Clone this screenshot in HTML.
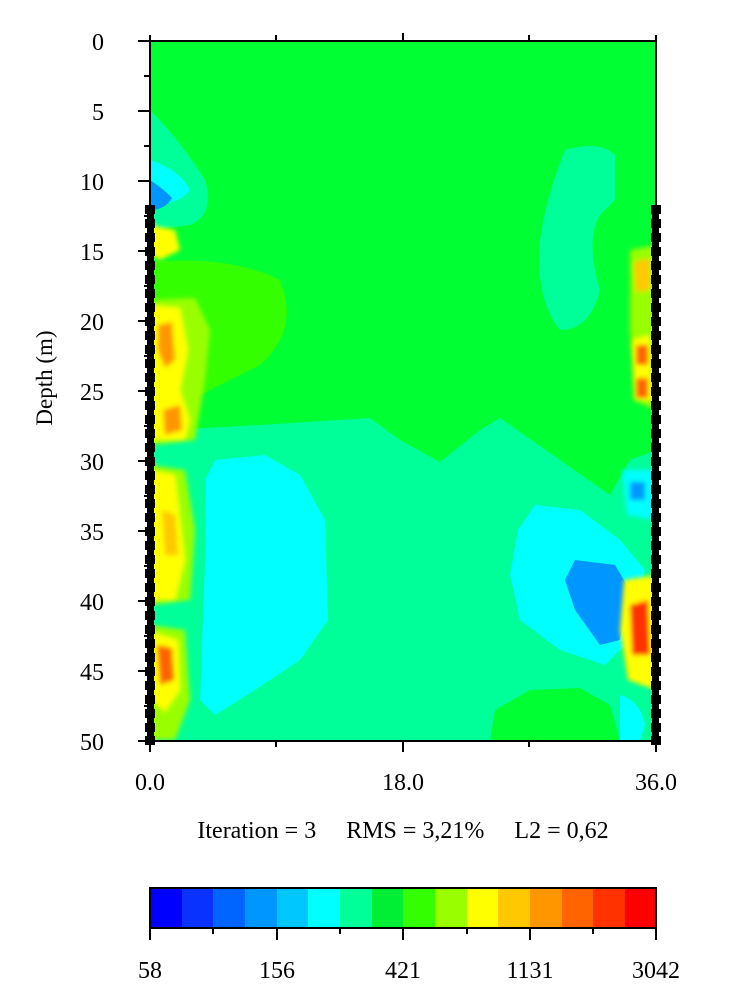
<!DOCTYPE html>
<html><head><meta charset="utf-8"><style>
body{margin:0;background:#fff;}
svg{display:block;font-family:"Liberation Serif",serif;}
</style></head><body>
<svg width="737" height="997" viewBox="0 0 737 997">
<defs><clipPath id="c"><rect x="150" y="41" width="506" height="700"/></clipPath>
<filter id="b"><feGaussianBlur stdDeviation="2.5"/></filter></defs>
<g clip-path="url(#c)">
<rect x="150" y="41" width="506" height="700" fill="#00ff33"/>
<path d="M150 262 Q230 255 280 280 Q300 330 260 365 Q220 385 190 400 L150 410Z" fill="#33ff00"/>
<path d="M150 440 L170 430 L260 425 L370 418 L400 440 L440 462 L480 430 L500 418 L560 460 L610 495 L630 460 L656 450 L656 741 L150 741Z" fill="#00ff99"/>
<path d="M565 150 Q600 140 615 155 L615 200 L600 215 Q585 240 600 290 Q590 330 560 330 Q535 300 540 240 Q545 200 565 150Z" fill="#00ff99"/>
<path d="M150 110 Q180 140 205 180 Q215 215 190 225 L150 230Z" fill="#00ff99"/>
<path d="M150 160 Q180 170 190 190 Q180 205 150 205Z" fill="#00ffff"/>
<path d="M150 180 Q165 190 172 198 Q165 210 150 210Z" fill="#0096ff"/>
<path d="M215 460 L265 455 L300 475 L325 520 L328 620 L300 660 L255 690 L215 715 L200 700 L205 560 L205 480Z" fill="#00ffff"/>
<path d="M535 505 L580 510 L620 540 L645 570 L630 640 L605 665 L560 650 L520 620 L510 575 L518 530Z" fill="#00ffff"/>
<path d="M575 560 L615 565 L630 590 L620 640 L600 645 L575 610 L565 580Z" fill="#0096ff"/>
<path d="M490 741 L495 710 L530 690 L580 688 L610 705 L620 741Z" fill="#00ff33"/>
<path d="M620 695 Q640 700 645 725 L640 741 L620 741Z" fill="#00ffff"/>
<g filter="url(#b)">
<path d="M150 300 L195 298 L210 330 L205 380 L195 440 L150 445Z" fill="#99ff00"/>
<path d="M150 305 L180 308 L188 350 L180 390 L190 420 L185 440 L150 440Z" fill="#ffff00"/>
<path d="M158 325 L172 322 L175 360 L165 368 L158 350Z" fill="#ff9600"/>
<path d="M163 410 L180 405 L182 430 L165 435Z" fill="#ff9600"/>
<path d="M150 465 L185 470 L195 530 L190 600 L150 605Z" fill="#99ff00"/>
<path d="M150 470 L175 475 L185 560 L175 600 L150 600Z" fill="#ffff00"/>
<path d="M162 510 L175 515 L178 555 L165 555Z" fill="#ffc800"/>
<path d="M150 625 L185 630 L190 700 L175 740 L150 740Z" fill="#99ff00"/>
<path d="M152 632 L178 640 L180 690 L165 712 L152 700Z" fill="#ffff00"/>
<path d="M157 645 L172 648 L174 680 L160 685Z" fill="#ff6400"/>
<path d="M150 225 L175 230 L180 250 L160 260 L150 255Z" fill="#ffff00"/>
<path d="M630 250 L656 245 L656 410 L634 400 L630 330Z" fill="#99ff00"/>
<path d="M634 262 L650 258 L650 290 L636 292Z" fill="#ffc800"/>
<path d="M632 340 L650 335 L652 400 L634 400Z" fill="#ffff00"/>
<path d="M636 345 L648 345 L648 365 L636 365Z M636 378 L648 378 L648 398 L636 398Z" fill="#ff6400"/>
<path d="M624 580 L656 575 L656 690 L628 680 L620 630Z" fill="#ffff00"/>
<path d="M630 605 L648 600 L650 655 L632 655Z" fill="#ff3200"/>
<path d="M622 470 L656 470 L656 520 L627 515Z" fill="#00ffff"/>
<path d="M630 482 L645 482 L645 500 L630 500Z" fill="#0096ff"/>
</g>
</g>
<g stroke="#000" stroke-width="2" fill="none">
<line x1="150" y1="41" x2="656" y2="41"/>
<line x1="150" y1="741" x2="656" y2="741"/>
<line x1="150" y1="35" x2="150" y2="741"/>
<line x1="656" y1="35" x2="656" y2="741"/>
</g>
<g stroke="#000" stroke-width="2">
<line x1="276" y1="35" x2="276" y2="41"/><line x1="403" y1="33" x2="403" y2="41"/><line x1="529" y1="35" x2="529" y2="41"/>
<line x1="150" y1="741" x2="150" y2="752"/><line x1="276" y1="741" x2="276" y2="747"/><line x1="403" y1="741" x2="403" y2="752"/><line x1="529" y1="741" x2="529" y2="747"/><line x1="656" y1="741" x2="656" y2="752"/>
<line x1="138" y1="41" x2="150" y2="41"/><line x1="144" y1="76" x2="150" y2="76"/>
<line x1="138" y1="111" x2="150" y2="111"/><line x1="144" y1="146" x2="150" y2="146"/>
<line x1="138" y1="181" x2="150" y2="181"/><line x1="144" y1="216" x2="150" y2="216"/>
<line x1="138" y1="251" x2="150" y2="251"/><line x1="144" y1="286" x2="150" y2="286"/>
<line x1="138" y1="321" x2="150" y2="321"/><line x1="144" y1="356" x2="150" y2="356"/>
<line x1="138" y1="391" x2="150" y2="391"/><line x1="144" y1="426" x2="150" y2="426"/>
<line x1="138" y1="461" x2="150" y2="461"/><line x1="144" y1="496" x2="150" y2="496"/>
<line x1="138" y1="531" x2="150" y2="531"/><line x1="144" y1="566" x2="150" y2="566"/>
<line x1="138" y1="601" x2="150" y2="601"/><line x1="144" y1="636" x2="150" y2="636"/>
<line x1="138" y1="671" x2="150" y2="671"/><line x1="144" y1="706" x2="150" y2="706"/>
<line x1="138" y1="741" x2="150" y2="741"/>
</g>
<rect x="147" y="209" width="7" height="532" fill="#000"/>
<rect x="652" y="209" width="7" height="532" fill="#000"/>
<g id="el" fill="#000">
<rect x="145" y="205" width="10" height="9"/><rect x="145" y="219" width="10" height="9"/><rect x="145" y="233" width="10" height="9"/><rect x="145" y="247" width="10" height="9"/><rect x="145" y="261" width="10" height="9"/><rect x="145" y="275" width="10" height="9"/><rect x="145" y="289" width="10" height="9"/><rect x="145" y="303" width="10" height="9"/><rect x="145" y="317" width="10" height="9"/><rect x="145" y="331" width="10" height="9"/><rect x="145" y="345" width="10" height="9"/><rect x="145" y="359" width="10" height="9"/><rect x="145" y="373" width="10" height="9"/><rect x="145" y="387" width="10" height="9"/><rect x="145" y="401" width="10" height="9"/><rect x="145" y="415" width="10" height="9"/><rect x="145" y="429" width="10" height="9"/><rect x="145" y="443" width="10" height="9"/><rect x="145" y="457" width="10" height="9"/><rect x="145" y="471" width="10" height="9"/><rect x="145" y="485" width="10" height="9"/><rect x="145" y="499" width="10" height="9"/><rect x="145" y="513" width="10" height="9"/><rect x="145" y="527" width="10" height="9"/><rect x="145" y="541" width="10" height="9"/><rect x="145" y="555" width="10" height="9"/><rect x="145" y="569" width="10" height="9"/><rect x="145" y="583" width="10" height="9"/><rect x="145" y="597" width="10" height="9"/><rect x="145" y="611" width="10" height="9"/><rect x="145" y="625" width="10" height="9"/><rect x="145" y="639" width="10" height="9"/><rect x="145" y="653" width="10" height="9"/><rect x="145" y="667" width="10" height="9"/><rect x="145" y="681" width="10" height="9"/><rect x="145" y="695" width="10" height="9"/><rect x="145" y="709" width="10" height="9"/><rect x="145" y="723" width="10" height="9"/><rect x="145" y="736" width="10" height="9"/>
</g>
<use href="#el" x="506"/>
<g font-size="24" fill="#000" text-anchor="end">
<text x="104" y="50">0</text><text x="104" y="120">5</text><text x="104" y="190">10</text><text x="104" y="260">15</text><text x="104" y="330">20</text><text x="104" y="400">25</text><text x="104" y="470">30</text><text x="104" y="540">35</text><text x="104" y="610">40</text><text x="104" y="680">45</text><text x="104" y="750">50</text>
</g>
<text transform="translate(52,378) rotate(-90)" font-size="23" text-anchor="middle">Depth (m)</text>
<g font-size="24" text-anchor="middle">
<text x="150" y="790">0.0</text><text x="403" y="790">18.0</text><text x="656" y="790">36.0</text>
<text x="403" y="838" xml:space="preserve">Iteration = 3     RMS = 3,21%     L2 = 0,62</text>
<text x="150" y="978">58</text><text x="277" y="978">156</text><text x="403" y="978">421</text><text x="530" y="978">1131</text><text x="656" y="978">3042</text>
</g>
<g>
<rect x="150" y="888" width="32" height="40" fill="#0000ff"/>
<rect x="182" y="888" width="31" height="40" fill="#0a32ff"/>
<rect x="213" y="888" width="32" height="40" fill="#0064ff"/>
<rect x="245" y="888" width="32" height="40" fill="#0096ff"/>
<rect x="277" y="888" width="31" height="40" fill="#00c8ff"/>
<rect x="308" y="888" width="32" height="40" fill="#00ffff"/>
<rect x="340" y="888" width="32" height="40" fill="#00ff99"/>
<rect x="372" y="888" width="31" height="40" fill="#00ee33"/>
<rect x="403" y="888" width="32" height="40" fill="#33ff00"/>
<rect x="435" y="888" width="32" height="40" fill="#99ff00"/>
<rect x="467" y="888" width="31" height="40" fill="#ffff00"/>
<rect x="498" y="888" width="32" height="40" fill="#ffc800"/>
<rect x="530" y="888" width="32" height="40" fill="#ff9600"/>
<rect x="562" y="888" width="31" height="40" fill="#ff6400"/>
<rect x="593" y="888" width="32" height="40" fill="#ff3200"/>
<rect x="625" y="888" width="31" height="40" fill="#ff0000"/>
<rect x="150" y="888" width="506" height="40" fill="none" stroke="#000" stroke-width="2"/>
<g stroke="#000" stroke-width="2">
<line x1="150" y1="928" x2="150" y2="940"/><line x1="213" y1="928" x2="213" y2="934"/><line x1="277" y1="928" x2="277" y2="940"/><line x1="340" y1="928" x2="340" y2="934"/><line x1="403" y1="928" x2="403" y2="940"/><line x1="467" y1="928" x2="467" y2="934"/><line x1="530" y1="928" x2="530" y2="940"/><line x1="593" y1="928" x2="593" y2="934"/><line x1="656" y1="928" x2="656" y2="940"/>
</g>
</g>
</svg>
</body></html>
